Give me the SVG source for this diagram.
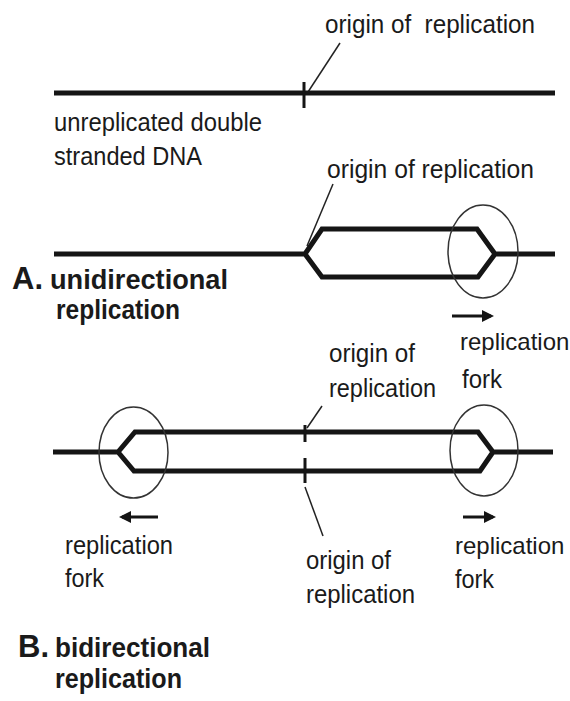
<svg xmlns="http://www.w3.org/2000/svg" width="570" height="701" viewBox="0 0 570 701">
<defs>
<style>
.dna{fill:none;stroke:#151515;stroke-width:5;stroke-linejoin:miter;stroke-linecap:butt}
.tick{stroke:#151515;stroke-width:3}
.lead{stroke:#222;stroke-width:1.5;fill:none}
.ring{fill:none;stroke:#333;stroke-width:1.5}
.arr{stroke:#151515;stroke-width:3}
.t{font-family:"Liberation Sans",Arial,sans-serif;font-size:26px;fill:#1a1a1a}
.t2{font-family:"Liberation Sans",Arial,sans-serif;font-size:24px;fill:#1a1a1a}
.b{font-family:"Liberation Sans",Arial,sans-serif;font-weight:bold;font-size:27px;fill:#1a1a1a}
.big{font-family:"Liberation Sans",Arial,sans-serif;font-weight:bold;font-size:31px;fill:#1a1a1a}
</style>
<marker id="ah" markerWidth="4" markerHeight="4" refX="3" refY="2" orient="auto" markerUnits="strokeWidth">
<path d="M0,0 L4,2 L0,4 Z" fill="#151515"/>
</marker>
</defs>
<rect width="570" height="701" fill="#fff"/>

<g id="connectors">
<line class="lead" x1="308" y1="92" x2="340" y2="43"/>
<line class="lead" x1="307" y1="246" x2="333" y2="184"/>
<line class="lead" x1="307" y1="428" x2="322" y2="406"/>
<line class="lead" x1="305" y1="487" x2="323" y2="536"/>
<line class="arr" x1="452" y1="316" x2="491" y2="316" marker-end="url(#ah)"/>
<line class="arr" x1="158" y1="517" x2="122" y2="517" marker-end="url(#ah)"/>
<line class="arr" x1="463" y1="517" x2="493" y2="517" marker-end="url(#ah)"/>
</g>

<g id="unreplicated">
<line class="dna" x1="54" y1="93" x2="555" y2="93"/>
<line class="tick" x1="304" y1="82" x2="304" y2="108"/>
<text class="t" x="325" y="33" textLength="210" lengthAdjust="spacingAndGlyphs" xml:space="preserve">origin of  replication</text>
<text class="t" x="54" y="131" textLength="208" lengthAdjust="spacingAndGlyphs">unreplicated double</text>
<text class="t" x="54" y="165" textLength="148" lengthAdjust="spacingAndGlyphs">stranded DNA</text>
</g>

<g id="unidirectional">
<path class="dna" d="M54,254 H305 L322,229 H477 L495,254 H555 M305,254 L322,277 H478 L495,254"/>
<ellipse class="ring" cx="483" cy="251.5" rx="35" ry="46.5"/>
<text class="t" x="327" y="178" textLength="207" lengthAdjust="spacingAndGlyphs">origin of replication</text>
<text class="big" x="12" y="289">A.</text>
<text class="b" x="50" y="289" textLength="178" lengthAdjust="spacingAndGlyphs">unidirectional</text>
<text class="b" x="56" y="319" textLength="124" lengthAdjust="spacingAndGlyphs">replication</text>
</g>

<g id="bidirectional">
<path class="dna" d="M53,452 H118 L135,432 H478 L493,452 H553 M118,452 L134,471 H480 L493,452"/>
<line class="tick" x1="305" y1="425" x2="305" y2="442"/>
<line class="tick" x1="305" y1="458" x2="305" y2="483"/>
<ellipse class="ring" cx="133.5" cy="452.5" rx="34.5" ry="45.5"/>
<ellipse class="ring" cx="484" cy="450.5" rx="34" ry="45.5"/>
<text class="t" x="329" y="362" textLength="86" lengthAdjust="spacingAndGlyphs">origin of</text>
<text class="t" x="329" y="397" textLength="107" lengthAdjust="spacingAndGlyphs">replication</text>
<text class="t2" x="460" y="350">replication</text>
<text class="t" x="462" y="388" textLength="40" lengthAdjust="spacingAndGlyphs">fork</text>
<text class="t" x="65" y="554" textLength="108" lengthAdjust="spacingAndGlyphs">replication</text>
<text class="t" x="65" y="587" textLength="39" lengthAdjust="spacingAndGlyphs">fork</text>
<text class="t" x="306" y="569" textLength="85" lengthAdjust="spacingAndGlyphs">origin of</text>
<text class="t" x="306" y="603" textLength="109" lengthAdjust="spacingAndGlyphs">replication</text>
<text class="t2" x="455" y="554">replication</text>
<text class="t" x="455" y="588" textLength="39" lengthAdjust="spacingAndGlyphs">fork</text>
<text class="big" x="18" y="657">B.</text>
<text class="b" x="55" y="657" textLength="155" lengthAdjust="spacingAndGlyphs">bidirectional</text>
<text class="b" x="55" y="688" textLength="127" lengthAdjust="spacingAndGlyphs">replication</text>
</g>
</svg>
